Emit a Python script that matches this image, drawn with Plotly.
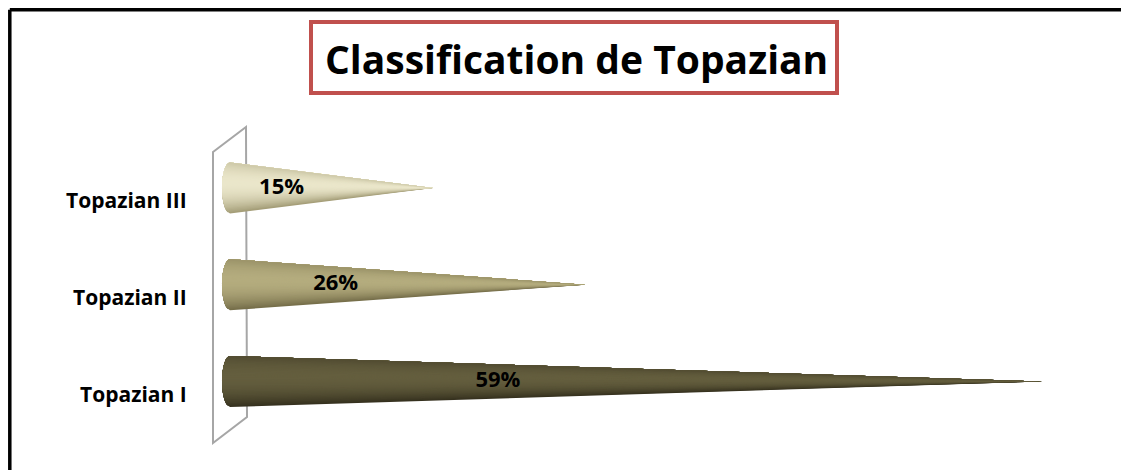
import numpy as np
import plotly.graph_objects as go

# ---- data ----
categories = ["Topazian I", "Topazian II", "Topazian III"]
values = [59, 26, 15]
value_labels = ["59%", "26%", "15%"]
title_text = "Classification de Topazian"

# cone colours (highlight / shadow) per category
highlight = [(100, 94, 62), (180, 172, 126), (234, 230, 202)]
shadow = [(48, 44, 27), (110, 103, 68), (156, 149, 110)]

# ---- layout geometry (pixels in the page; the page body adds an 8px margin) ----
W, H = 1129, 470
OFF = 8
X0PX, XS = 225.0 - OFF, 13.85     # figure pixel of x=0, pixels per unit
Y0PX, YS = 381.5 - OFF, 96.75     # figure pixel of category 0, pixels per category
xr = [(0 - X0PX) / XS, (W - X0PX) / XS]
yr = [(Y0PX - H) / YS, Y0PX / YS]


def px(x):
    return (x - OFF) / W


def py(y):
    return 1 - (y - OFF) / H


FONT = "Open Sans"
fig = go.Figure()

base_x = 5.0 / XS   # cone base centre
a = 8.0 / XS        # ellipse half-width of base
h = 25.5 / YS       # cone half-height
N = 40
edges = np.linspace(-1, 1, N + 1)

for i, (cat, v) in enumerate(zip(categories, values)):
    yc = i
    for k in range(N):
        u0 = edges[k]
        us = np.linspace(u0, 1, 40)
        xs = list(base_x - a * np.sqrt(np.clip(1 - us ** 2, 0, 1))) + [v]
        ys = list(yc + us * h) + [yc]
        um = (edges[k] + edges[k + 1]) / 2
        g = max(0.0, 1 - ((um - 0.22) / 1.25) ** 2) ** 0.9
        col = tuple(int(round(s + (hh - s) * g)) for s, hh in zip(shadow[i], highlight[i]))
        c = "rgb(%d,%d,%d)" % col
        fig.add_trace(go.Scatter(
            x=xs, y=ys, fill="toself", fillcolor=c, mode="lines",
            line=dict(width=0), hoverinfo="skip", showlegend=False))

# value labels (placed along the cone, proportional to its length)
fig.add_trace(go.Scatter(
    x=[v * 0.355 - 1.24 for v in values], y=list(range(len(values))),
    mode="text", text=["<b>%s</b>" % t for t in value_labels],
    textfont=dict(family=FONT, size=22, color="black"),
    textposition="middle center", hoverinfo="skip", showlegend=False))

annotations = []
for i, cat in enumerate(categories):
    annotations.append(dict(
        x=px(189), xref="paper", y=i, yref="y", yshift=-12,
        text="<b>%s</b>" % cat, showarrow=False, xanchor="right", yanchor="middle",
        font=dict(family=FONT, size=21, color="black")))
annotations.append(dict(
    x=px(576), xref="paper", y=py(58), yref="paper", text="<b>%s</b>" % title_text,
    showarrow=False, xanchor="center", yanchor="middle",
    font=dict(family=FONT, size=39, color="black")))

shapes = [
    # back wall
    dict(type="path", xref="paper", yref="paper", layer="below",
         path="M %f %f L %f %f L %f %f L %f %f Z" % (
             px(213), py(152), px(246), py(127), px(247), py(417), px(213), py(443)),
         line=dict(color="#A6A6A6", width=2), fillcolor="rgba(0,0,0,0)"),
    # title box
    dict(type="rect", xref="paper", yref="paper",
         x0=px(311), y0=py(22), x1=px(837), y1=py(93),
         line=dict(color="#C0504D", width=4), fillcolor="rgba(0,0,0,0)"),
    # outer border (cut by figure edge at right & bottom)
    dict(type="line", xref="paper", yref="paper",
         x0=px(9.8), y0=py(9.7), x1=px(W + 40), y1=py(9.7),
         line=dict(color="black", width=3.5)),
    dict(type="line", xref="paper", yref="paper",
         x0=px(9.8), y0=py(9.7), x1=px(9.8), y1=py(H + 40),
         line=dict(color="black", width=3.5)),
]

fig.update_layout(
    width=W, height=H, margin=dict(l=0, r=0, t=0, b=0),
    paper_bgcolor="white", plot_bgcolor="white",
    xaxis=dict(range=xr, visible=False, fixedrange=True),
    yaxis=dict(range=yr, visible=False, fixedrange=True),
    annotations=annotations, shapes=shapes, showlegend=False,
)

fig.write_html("out.html")
